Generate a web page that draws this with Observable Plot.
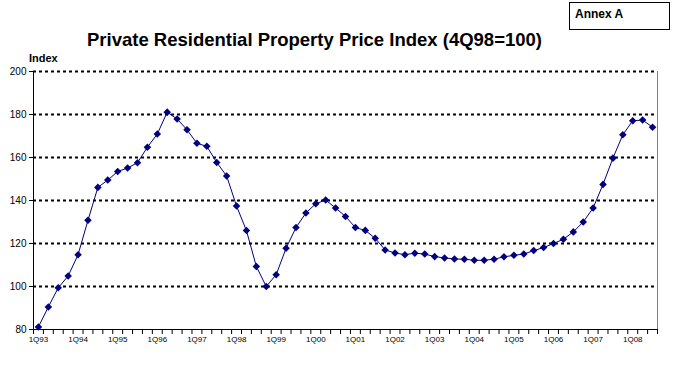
<!DOCTYPE html>
<html><head><meta charset="utf-8">
<script src="https://cdn.jsdelivr.net/npm/d3@7"></script>
<script src="https://cdn.jsdelivr.net/npm/@observablehq/plot@0.6"></script>
<style>
body{margin:0;background:#fff;}
#wrap{position:relative;width:676px;height:384px;font-family:"Liberation Sans",Arial,sans-serif;}
#title{position:absolute;left:0;width:629px;top:29px;text-align:center;font-weight:bold;font-size:18.5px;white-space:nowrap;}
#annex{position:absolute;left:569px;top:2px;width:101px;height:28px;border:1px solid #000;box-sizing:border-box;font-weight:bold;font-size:12px;padding:4px 0 0 5px}
#index{position:absolute;left:29px;top:52px;font-weight:bold;font-size:11px}
#chart{position:absolute;left:0;top:0;}
</style></head>
<body>
<div id="wrap">
<div id="chart"></div>
<div id="title">Private Residential Property Price Index (4Q98=100)</div>
<div id="annex">Annex A</div>
<div id="index">Index</div>
</div>
<script>
const values = [81.2, 90.5, 99.4, 104.9, 114.8, 130.8, 146.1, 149.5, 153.5, 155.1, 157.6, 164.8,
  170.9, 181.1, 177.9, 172.9, 166.6, 165.2, 157.7, 151.4, 137.4, 126.0, 109.3, 100.0,
  105.5, 117.8, 127.4, 134.2, 138.5, 140.2, 136.5, 132.6, 127.4, 126.1, 122.4, 117.0,
  115.6, 114.8, 115.5, 115.1, 113.9, 113.3, 112.8, 112.7, 112.2, 112.2, 112.7, 113.8,
  114.5, 115.1, 116.7, 118.1, 120.0, 122.0, 125.4, 130.0, 136.5, 147.5, 159.7, 170.6,
  177.1, 177.4, 174.1];
const yearLabels = ["1Q93","1Q94","1Q95","1Q96","1Q97","1Q98","1Q99","1Q00","1Q01","1Q02","1Q03","1Q04","1Q05","1Q06","1Q07","1Q08"];
const yTicks = [80, 100, 120, 140, 160, 180, 200];
const gridValues = [100, 120, 140, 160, 180, 200];

const data = values.map((v, i) => ({i, v}));
const n = values.length;
const font = '"Liberation Sans","Arial",sans-serif';

const chart = Plot.plot({
  width: 676, height: 384,
  marginLeft: 33, marginRight: 19, marginTop: 71, marginBottom: 55,
  x: {domain: [-0.5, n - 0.5]},
  y: {domain: [80, 200]},
  style: {fontFamily: font, background: "transparent", color: "#000"},
  marks: [
    Plot.ruleY(gridValues, {stroke: "#000", strokeWidth: 2, strokeDasharray: "3,3"}),
    Plot.ruleX([n - 0.5], {stroke: "#808080"}),
    Plot.ruleX([-0.5], {stroke: "#000"}),
    Plot.ruleY([80], {stroke: "#000"}),
    Plot.axisY({ticks: yTicks, tickSize: 4, fontSize: 10, tickPadding: 3, label: null}),
    Plot.axisX({ticks: d3.range(-0.5, n, 1), tickFormat: () => "", tickSize: 5, label: null}),
    Plot.axisX({ticks: yearLabels.map((_, k) => k * 4), tickFormat: d => yearLabels[d / 4], tickSize: 0, tickPadding: 7, fontSize: 8, label: null}),
    Plot.line(data, {x: "i", y: "v", stroke: "#000080", strokeWidth: 1}),
    Plot.dot(data, {x: "i", y: "v", symbol: "diamond2", fill: "#000080", stroke: "none", r: 3.4})
  ]
});
document.getElementById("chart").appendChild(chart);
</script>
</body></html>
